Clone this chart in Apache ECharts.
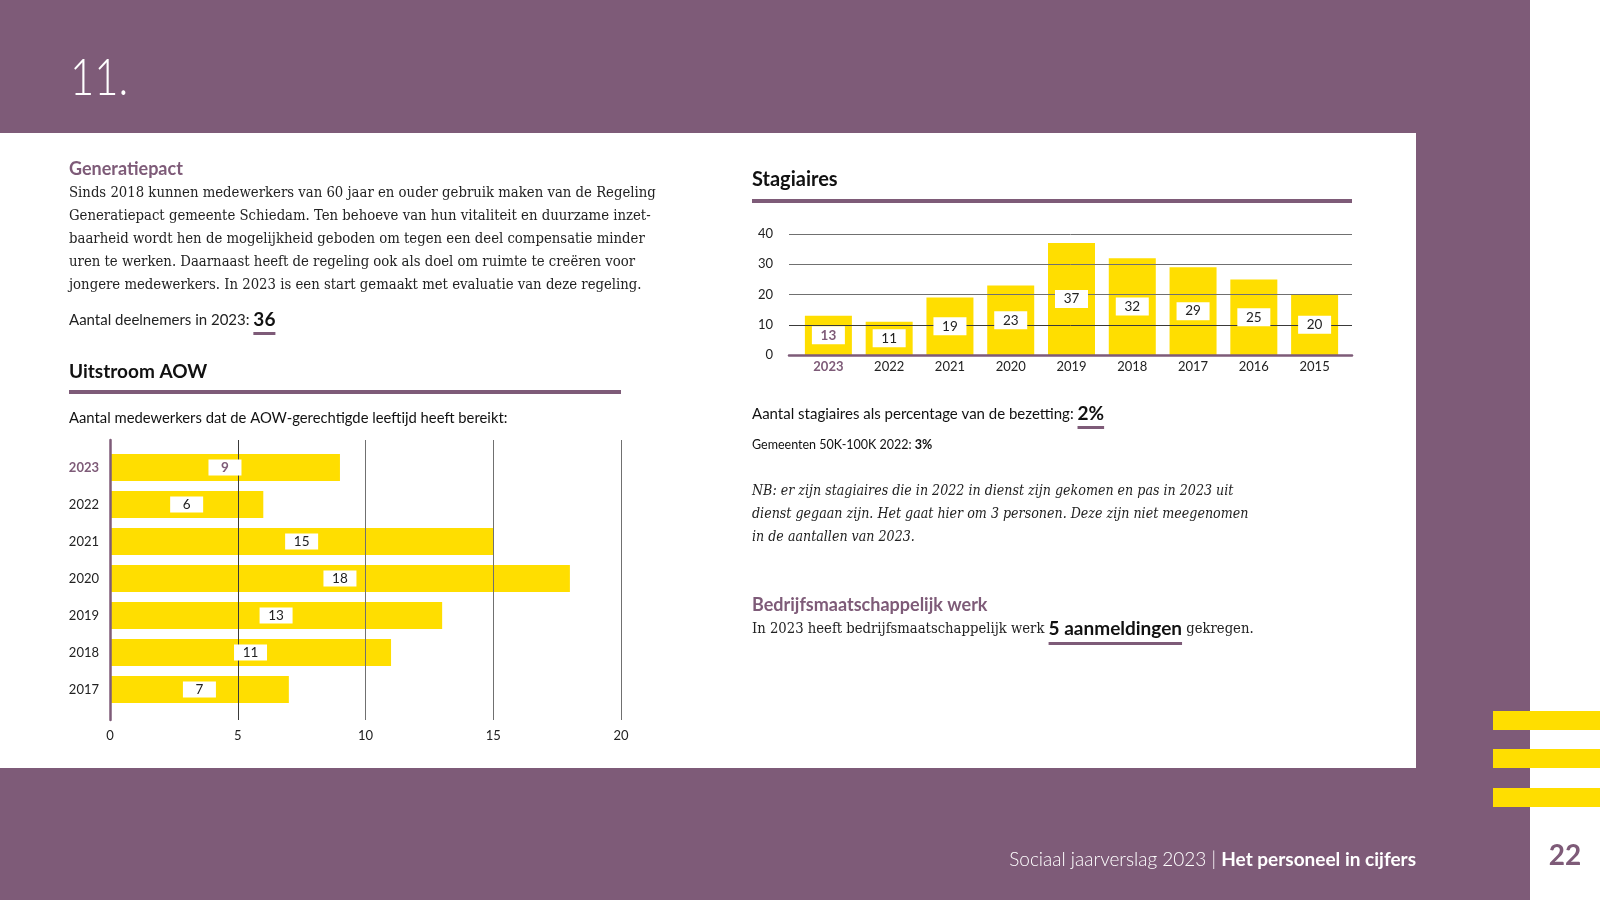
<!DOCTYPE html>
<html><head><meta charset="utf-8">
<script src="https://cdn.jsdelivr.net/npm/echarts@6/dist/echarts.min.js"></script>
<style>html,body{margin:0;padding:0;background:#fff}#c{width:1600px;height:900px}</style>
</head><body><div id="c"></div>
<script>
// ---- data ----
const aowYears = ['2023','2022','2021','2020','2019','2018','2017'];
const aowValues = [9, 6, 15, 18, 13, 11, 7];
const aowTicks = [0, 5, 10, 15, 20];
const stagYears = ['2023','2022','2021','2020','2019','2018','2017','2016','2015'];
const stagValues = [13, 11, 19, 23, 37, 32, 29, 25, 20];
const stagTicks = [0, 10, 20, 30, 40];
const highlightYear = '2023';
const pageNumber = '22';
const chapter = '11.';
const paragraph = [
  'Sinds 2018 kunnen medewerkers van 60 jaar en ouder gebruik maken van de Regeling',
  'Generatiepact gemeente Schiedam. Ten behoeve van hun vitaliteit en duurzame inzet-',
  'baarheid wordt hen de mogelijkheid geboden om tegen een deel compensatie minder',
  'uren te werken. Daarnaast heeft de regeling ook als doel om ruimte te creëren voor',
  'jongere medewerkers. In 2023 is een start gemaakt met evaluatie van deze regeling.'
];
const nbLines = [
  'NB: er zijn stagiaires die in 2022 in dienst zijn gekomen en pas in 2023 uit',
  'dienst gegaan zijn. Het gaat hier om 3 personen. Deze zijn niet meegenomen',
  'in de aantallen van 2023.'
];

// ---- style ----
const purple = '#7e5b78';
const yellow = '#ffde00';
const gridColors = ['#555', '#3a3a3a', '#707070', '#707070', '#707070'];
const SANS = 'Lato, "Open Sans", sans-serif';
const SERIF = '"DejaVu Serif Condensed", "Liberation Serif", serif';

const mctx = document.createElement('canvas').getContext('2d');
function measure(t, font){ mctx.font = font; return mctx.measureText(t).width; }
function runs(x, y, parts, align){
  const total = parts.reduce((s,p)=>s+measure(p.t,p.font),0);
  let cx = align === 'right' ? x - total : x;
  const els = [];
  parts.forEach(p=>{
    const w = measure(p.t, p.font);
    els.push({type:'text', x:cx, y:y, z:5, style:{text:p.t, font:p.font, fill:p.fill, align:'left', verticalAlign:'middle'}});
    if (p.ul) els.push({type:'rect', z:5, shape:{x:cx, y:y+p.ul.dy, width:w, height:p.ul.h}, style:{fill:purple}});
    cx += w;
  });
  return els;
}

const g = [];
// backgrounds
g.push({type:'rect', z:-10, shape:{x:0,y:0,width:1530,height:900}, style:{fill:purple}});
g.push({type:'rect', z:-9, shape:{x:0,y:133,width:1416,height:635}, style:{fill:'#fff'}});
[711, 749, 788].forEach(y=>g.push({type:'rect', z:-9, shape:{x:1493,y:y,width:107,height:19}, style:{fill:yellow}}));
// chapter number (narrowed light sans)
g.push({type:'text', x:70, y:79, z:5, scaleX:0.82, style:{text:chapter, font:'300 51px '+SANS, fill:'#fff', verticalAlign:'middle'}});
// left column
g.push({type:'text', x:69, y:169, z:5, style:{text:'Generatiepact', font:'bold 18px '+SANS, fill:purple, verticalAlign:'middle'}});
paragraph.forEach((line,i)=>g.push({type:'text', x:69, y:193+i*23.1, z:5, style:{text:line, font:'14.75px '+SERIF, fill:'#222', verticalAlign:'middle'}}));
g.push(...runs(69, 320, [
  {t:'Aantal deelnemers in 2023: ', font:'15px '+SANS, fill:'#222'},
  {t:'36', font:'bold 19px '+SANS, fill:'#111', ul:{dy:12, h:3}}
]));
g.push({type:'text', x:69, y:372, z:5, style:{text:'Uitstroom AOW', font:'bold 19px '+SANS, fill:'#111', verticalAlign:'middle'}});
g.push({type:'rect', z:5, shape:{x:69,y:390,width:552,height:4}, style:{fill:purple}});
g.push({type:'text', x:69, y:418, z:5, style:{text:'Aantal medewerkers dat de AOW-gerechtigde leeftijd heeft bereikt:', font:'14.8px '+SANS, fill:'#111', verticalAlign:'middle'}});
// right column
g.push({type:'text', x:752, y:180, z:5, style:{text:'Stagiaires', font:'bold 20px '+SANS, fill:'#111', verticalAlign:'middle'}});
g.push({type:'rect', z:5, shape:{x:752,y:199,width:600,height:4}, style:{fill:purple}});
g.push(...runs(752, 414, [
  {t:'Aantal stagiaires als percentage van de bezetting: ', font:'15px '+SANS, fill:'#111'},
  {t:'2%', font:'bold 19px '+SANS, fill:'#111', ul:{dy:12, h:3}}
]));
g.push(...runs(752, 445, [
  {t:'Gemeenten 50K-100K 2022: ', font:'12.5px '+SANS, fill:'#111'},
  {t:'3%', font:'bold 12.5px '+SANS, fill:'#111'}
]));
nbLines.forEach((line,i)=>g.push({type:'text', x:752, y:491.5+i*22.8, z:5, style:{text:line, font:'italic 14.1px '+SERIF, fill:'#222', verticalAlign:'middle'}}));
g.push({type:'text', x:752, y:605, z:5, style:{text:'Bedrijfsmaatschappelijk werk', font:'bold 18px '+SANS, fill:purple, verticalAlign:'middle'}});
g.push(...runs(752, 629, [
  {t:'In 2023 heeft bedrijfsmaatschappelijk werk ', font:'14.7px '+SERIF, fill:'#222'},
  {t:'5 aanmeldingen', font:'bold 19px '+SANS, fill:'#111', ul:{dy:13, h:3}},
  {t:' gekregen.', font:'14.7px '+SERIF, fill:'#222'}
]));
// footer
g.push(...runs(1416, 860, [
  {t:'Sociaal jaarverslag 2023 | ', font:'300 19px '+SANS, fill:'#fff'},
  {t:'Het personeel in cijfers', font:'bold 19px '+SANS, fill:'#fff'}
], 'right'));
g.push({type:'text', x:1565, y:856, z:5, style:{text:pageNumber, font:'bold 28px '+SANS, fill:purple, align:'center', verticalAlign:'middle'}});

// ---- charts ----
const catLabel = (margin) => ({
  margin: margin,
  formatter: v => v === highlightYear ? '{h|'+v+'}' : '{n|'+v+'}',
  rich: {
    h: {fontFamily:SANS, fontSize:13, fontWeight:'bold', color:purple},
    n: {fontFamily:SANS, fontSize:13, color:'#222'}
  }
});
const valueLabel = (h) => ({
  show:true, position:'inside', backgroundColor:'#fff', width:33, height:h, lineHeight:h,
  align:'center', verticalAlign:'middle', fontFamily:SANS, fontSize:13.5, color:'#222'
});
const labelData = (vals, cats) => vals.map((v,i)=>({
  value:v, label: cats[i] === highlightYear ? {color:purple, fontWeight:'bold'} : {}
}));
const lineAxis = {show:true, lineStyle:{color:gridColors, width:1}};

const option = {
  animation:false,
  graphic: g,
  grid: [
    {left:110, top:440, width:511, height:280},
    {left:110, top:449, width:511, height:259},
    {left:789, top:234, width:563, height:121},
    {left:798, top:234, width:547, height:121}
  ],
  xAxis: [
    {gridIndex:0, type:'value', min:aowTicks[0], max:aowTicks[aowTicks.length-1], interval:aowTicks[1]-aowTicks[0],
     splitLine:lineAxis, axisLine:{show:false}, axisTick:{show:false},
     axisLabel:{margin:9, fontFamily:SANS, fontSize:13, color:'#222'}, z:5},
    {gridIndex:1, type:'value', min:aowTicks[0], max:aowTicks[aowTicks.length-1], show:false},
    {gridIndex:2, type:'value', min:0, max:1, axisLine:{show:true, onZero:false, lineStyle:{color:purple, width:2.5}},
     axisLabel:{show:false}, axisTick:{show:false}, splitLine:{show:false}, z:6},
    {gridIndex:3, type:'category', data:stagYears, axisLine:{show:false}, axisTick:{show:false}, axisLabel:catLabel(5)}
  ],
  yAxis: [
    {gridIndex:0, type:'value', min:0, max:1, axisLine:{show:true, onZero:false, lineStyle:{color:purple, width:2.5}},
     axisLabel:{show:false}, axisTick:{show:false}, splitLine:{show:false}, z:6},
    {gridIndex:1, type:'category', data:aowYears, inverse:true, axisLine:{show:false}, axisTick:{show:false}, axisLabel:catLabel(11)},
    {gridIndex:2, type:'value', min:stagTicks[0], max:stagTicks[stagTicks.length-1], interval:stagTicks[1]-stagTicks[0],
     splitLine:lineAxis, axisLine:{show:false}, axisTick:{show:false},
     axisLabel:{margin:16, fontFamily:SANS, fontSize:13, color:'#222'}, z:5},
    {gridIndex:3, type:'value', min:stagTicks[0], max:stagTicks[stagTicks.length-1], show:false}
  ],
  series: [
    {type:'bar', xAxisIndex:1, yAxisIndex:1, data:aowValues, barWidth:27, itemStyle:{color:yellow}, z:2, silent:true},
    {type:'bar', xAxisIndex:1, yAxisIndex:1, data:labelData(aowValues, aowYears), barWidth:27, barGap:'-100%',
     itemStyle:{color:'rgba(0,0,0,0)'}, z:10, silent:true, label:valueLabel(16)},
    {type:'bar', xAxisIndex:3, yAxisIndex:3, data:stagValues, barWidth:47, itemStyle:{color:yellow}, z:2, silent:true},
    {type:'bar', xAxisIndex:3, yAxisIndex:3, data:labelData(stagValues, stagYears), barWidth:47, barGap:'-100%',
     itemStyle:{color:'rgba(0,0,0,0)'}, z:10, silent:true, label:valueLabel(18)}
  ]
};
const chart = echarts.init(document.getElementById('c'), null, {renderer:'canvas'});
chart.setOption(option);
</script></body></html>
